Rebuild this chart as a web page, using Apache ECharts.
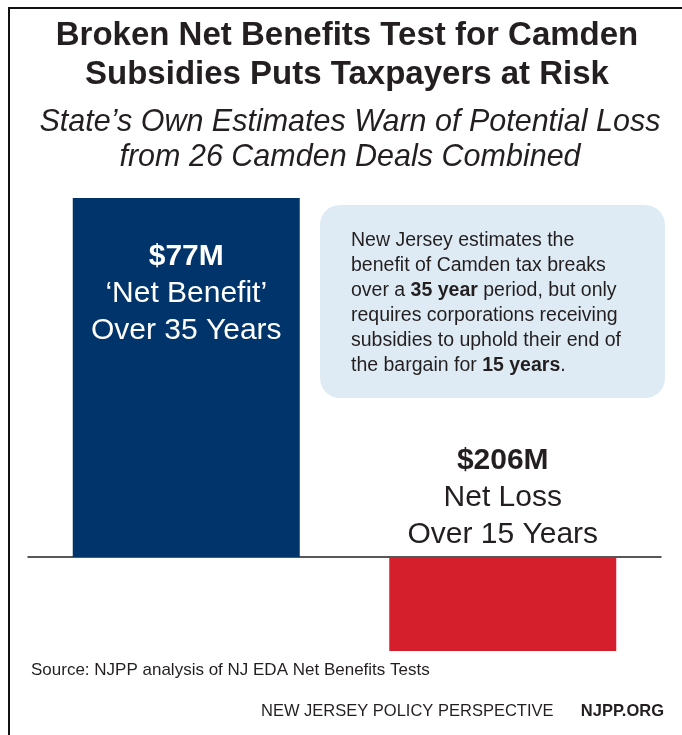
<!DOCTYPE html>
<html>
<head>
<meta charset="utf-8">
<script src="https://cdn.jsdelivr.net/npm/echarts@6/dist/echarts.min.js"></script>
<style>html,body{margin:0;padding:0;background:#fff}#c{width:682px;height:735px}</style>
</head>
<body>
<div id="c"></div>
<script>
// ---- data ----
var categories = ['Net Benefit (35 years)', 'Net Loss (15 years)'];
var netBenefit35 = [77, null];      // $M
var netLoss15 = [null, -206];       // $M
var valueLabels = ['$77M', '$206M'];
var labelLine1 = ['\u2018Net Benefit\u2019', 'Net Loss'];
var labelLine2 = ['Over 35 Years', 'Over 15 Years'];

var FONT = '"Liberation Sans", Arial, Helvetica, sans-serif';
var INK = '#231f20';
var chart = echarts.init(document.getElementById('c'));

// the two bars are drawn on separate (hidden) value axes sharing a zero line
var posShare = 359 / 453; // share of plot height above zero
var y0max = 77, y0min = -y0max * (1 - posShare) / posShare;
var y1min = -206, y1max = -y1min * posShare / (1 - posShare);

function labelFmt(p) {
  return '{v|' + valueLabels[p.dataIndex] + '}\n{t|' + labelLine1[p.dataIndex] + '}\n{t|' + labelLine2[p.dataIndex] + '}';
}
function richFor(color) {
  return {
    v: { fontFamily: FONT, fontSize: 30, fontWeight: 'bold', color: color, lineHeight: 37, align: 'center' },
    t: { fontFamily: FONT, fontSize: 30, color: color, lineHeight: 37, align: 'center' }
  };
}

chart.setOption({
  animation: false,
  backgroundColor: '#ffffff',
  grid: { left: 28, right: 21, top: 198, bottom: 84 },
  xAxis: {
    type: 'category', data: categories,
    axisLine: { show: true, onZero: true, lineStyle: { color: INK, width: 1.5 } },
    axisTick: { show: false }, axisLabel: { show: false }, splitLine: { show: false }
  },
  yAxis: [
    { type: 'value', min: y0min, max: y0max, show: false, splitLine: { show: false } },
    { type: 'value', min: y1min, max: y1max, show: false, splitLine: { show: false } }
  ],
  series: [
    {
      type: 'bar', yAxisIndex: 0, data: netBenefit35, barWidth: 227, barGap: '-100%',
      itemStyle: { color: '#00346b' },
      label: { show: true, position: 'insideTop', distance: 40, color: '#fff', formatter: labelFmt, rich: richFor('#ffffff') }
    },
    {
      type: 'bar', yAxisIndex: 1, data: netLoss15, barWidth: 227, barGap: '-100%',
      itemStyle: { color: '#d61f2c' },
      label: { show: true, position: 'top', distance: 4, color: INK, formatter: labelFmt, rich: richFor(INK) }
    }
  ],
  graphic: [
    { type: 'line', shape: { x1: 8, y1: 8, x2: 682, y2: 8 }, style: { stroke: '#111', lineWidth: 2 } },
    { type: 'line', shape: { x1: 9, y1: 8, x2: 9, y2: 735 }, style: { stroke: '#111', lineWidth: 2 } },
    { type: 'text', x: 347, y: 36, style: { text: 'Broken Net Benefits Test for Camden', font: 'bold 33px ' + FONT, fill: INK, align: 'center', verticalAlign: 'middle' } },
    { type: 'text', x: 347, y: 75, style: { text: 'Subsidies Puts Taxpayers at Risk', font: 'bold 33px ' + FONT, fill: INK, align: 'center', verticalAlign: 'middle' } },
    { type: 'text', x: 350, y: 123, style: { text: 'State\u2019s Own Estimates Warn of Potential Loss', font: 'italic 30.5px ' + FONT, fill: INK, align: 'center', verticalAlign: 'middle' } },
    { type: 'text', x: 350, y: 158, style: { text: 'from 26 Camden Deals Combined', font: 'italic 30.5px ' + FONT, fill: INK, align: 'center', verticalAlign: 'middle' } },
    { type: 'rect', shape: { x: 320, y: 205, width: 345, height: 193, r: 20 }, style: { fill: '#deebf4' } },
    {
      type: 'text', x: 351, y: 228,
      style: {
        text: 'New Jersey estimates the\nbenefit of Camden tax breaks\nover a {b|35 year} period, but only\nrequires corporations receiving\nsubsidies to uphold their end of\nthe bargain for {b|15 years}.',
        font: '19.5px ' + FONT, fill: INK, lineHeight: 25, verticalAlign: 'top',
        rich: { b: { fontFamily: FONT, fontSize: 19.5, fontWeight: 'bold', fill: INK, lineHeight: 25 } }
      }
    },
    { type: 'text', x: 31, y: 670, style: { text: 'Source: NJPP analysis of NJ EDA Net Benefits Tests', font: '17px ' + FONT, fill: INK, verticalAlign: 'middle' } },
    { type: 'text', x: 261, y: 711, style: { text: 'NEW JERSEY POLICY PERSPECTIVE', font: '16.5px ' + FONT, fill: INK, verticalAlign: 'middle' } },
    { type: 'text', x: 664, y: 711, style: { text: 'NJPP.ORG', font: 'bold 16.5px ' + FONT, fill: INK, align: 'right', verticalAlign: 'middle' } }
  ]
});
</script>
</body>
</html>
